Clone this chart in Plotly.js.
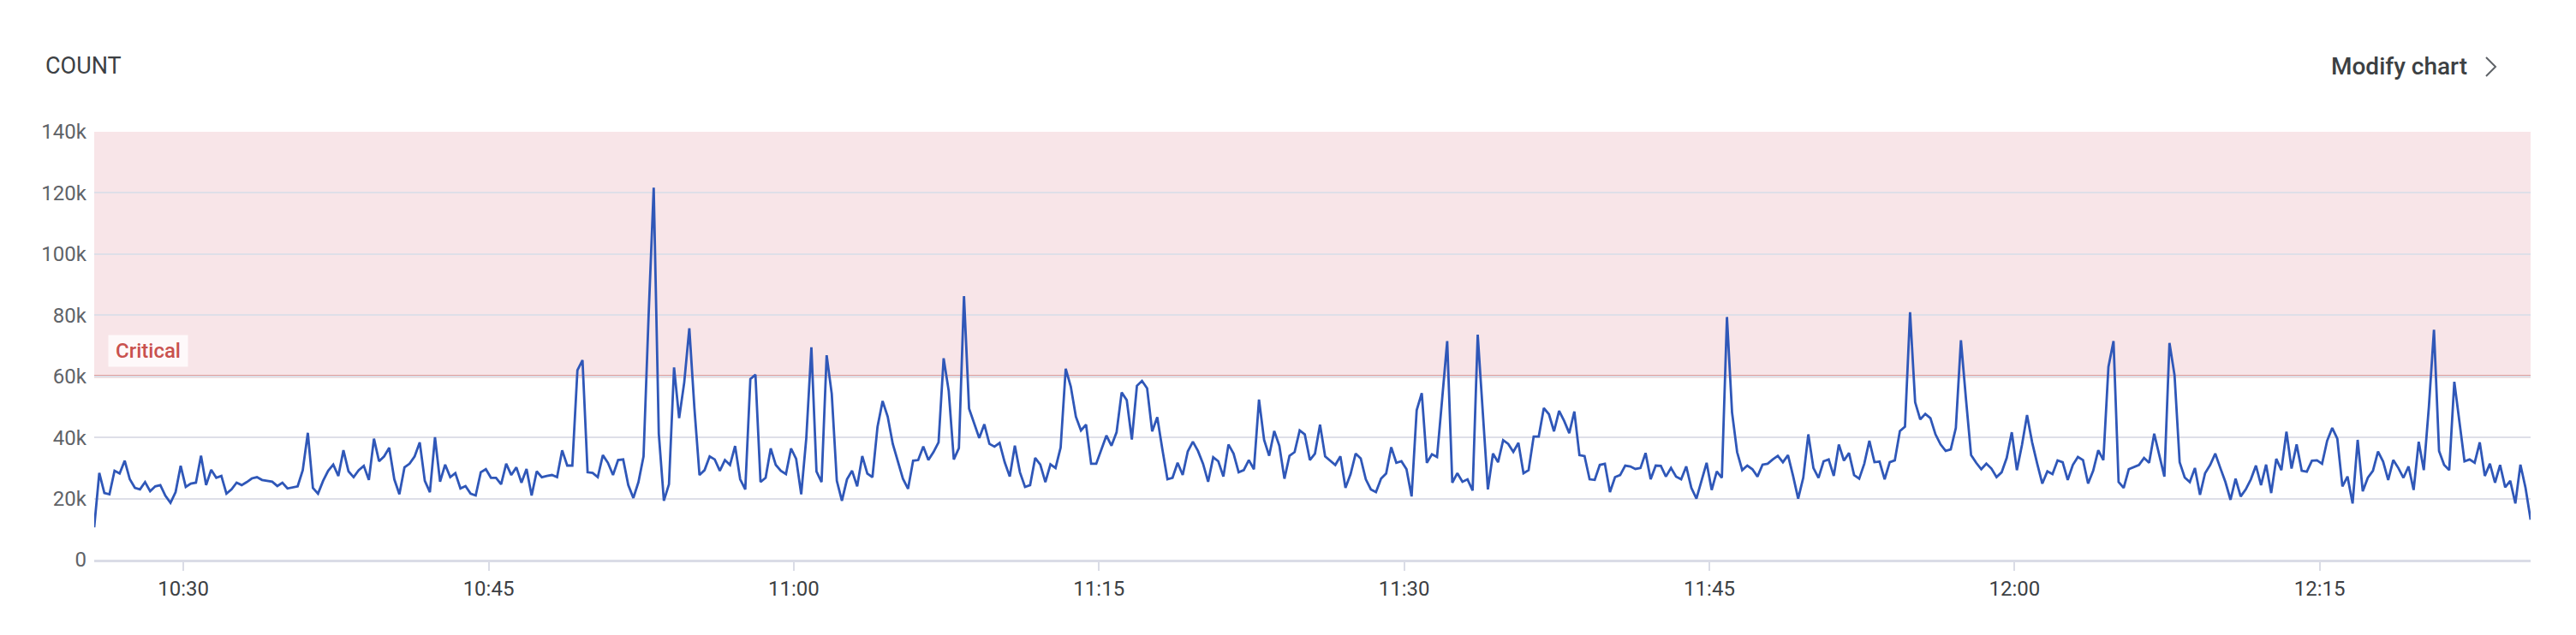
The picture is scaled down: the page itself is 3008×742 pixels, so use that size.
<!DOCTYPE html>
<html>
<head>
<meta charset="utf-8">
<script src="https://cdn.plot.ly/plotly-3.0.1.min.js"></script>
<style>
  html, body { margin: 0; padding: 0; background: #ffffff; }
  #chart { width: 3008px; height: 742px; }
</style>
</head>
<body>
<div id="chart"></div>
<script>
// ---- data ----
const startTime = "10:25:37";      // first sample
const stepSeconds = 15;            // sampling interval
const chartDate = "2024-05-01";

const countValues = [
  10600, 28400, 21800, 21400, 29100, 28200, 32400, 26300, 23500, 23000,
  25400, 22400, 24000, 24400, 20900, 18600, 22100, 30700, 23800, 24900,
  25200, 34000, 24400, 29400, 26800, 27400, 21600, 23000, 25200, 24400,
  25400, 26600, 27000, 26100, 25800, 25500, 24100, 25200, 23300, 23700,
  24000, 29300, 41500, 23500, 21600, 25800, 29100, 31100, 27400, 35800,
  28900, 27000, 29300, 30700, 26100, 39600, 32200, 33800, 36600, 26300,
  21400, 30200, 31400, 33800, 38400, 25800, 22100, 40100, 25500, 31100,
  27000, 28300, 23300, 24100, 21600, 21000, 28600, 29600, 26800, 26800,
  24700, 31400, 27700, 30200, 25200, 29700, 21000, 28900, 27000, 27400,
  27700, 27000, 35800, 30800, 30800, 62000, 65300, 28600, 28400, 27000,
  34200, 31700, 27700, 32600, 32800, 24400, 20200, 25400, 33800, 80000,
  121700, 41200, 19300, 24700, 62900, 46300, 58000, 75700, 49600, 27700,
  29300, 33800, 32800, 29100, 32600, 31000, 37200, 26300, 23000, 59100,
  60500, 25400, 26800, 36400, 31000, 29100, 28000, 36400, 33000, 21400,
  39800, 69500, 28900, 25400, 66900, 54300, 25800, 19300, 26300, 29100,
  24000, 33900, 28200, 27000, 43500, 51900, 46800, 37900, 32400, 26500,
  23200, 32400, 32600, 37000, 32600, 35200, 38400, 65900, 55200, 32800,
  36500, 86200, 49400, 44500, 39800, 44300, 37900, 37000, 38200, 31900,
  27200, 37300, 28600, 23800, 24400, 33300, 31100, 25400, 31200, 30000,
  36700, 62500, 56600, 46800, 42300, 44200, 31400, 31400, 36100, 40600,
  37300, 41700, 54700, 52200, 39300, 56900, 58500, 56100, 42000, 46600,
  36100, 26300, 26800, 31700, 27700, 35400, 38600, 35600, 31400, 25500,
  33500, 32200, 27200, 37700, 34700, 28600, 29300, 32600, 29600, 52400,
  39200, 34000, 42100, 37300, 26500, 34000, 35200, 42300, 41000, 32600,
  34700, 44200, 33800, 32400, 31000, 33800, 23500, 28000, 34700, 33100,
  26300, 23000, 22100, 26500, 28200, 36800, 31700, 32200, 29600, 20700,
  48900, 54500, 31700, 34500, 33600, 52400, 71500, 25200, 28300, 25500,
  26300, 22600, 73600, 48200, 23000, 34700, 31900, 39100, 37900, 35300,
  38200, 28300, 29300, 40300, 40300, 49600, 47600, 42000, 48700, 45400,
  41400, 48500, 34200, 33900, 26300, 26100, 31000, 31400, 22100, 27000,
  27700, 30800, 30500, 29700, 30000, 34900, 26300, 30800, 30700, 27200,
  30000, 27200, 26300, 30500, 23500, 20000, 25500, 31700, 22800, 28900,
  26800, 79400, 48200, 35200, 29300, 30800, 29600, 27200, 31100, 31400,
  32800, 34000, 31900, 34200, 27400, 20000, 26800, 41000, 30000, 26800,
  32200, 32800, 27400, 37700, 32400, 34900, 27700, 26500, 31400, 38900,
  31900, 32100, 26300, 31900, 32500, 42100, 43500, 81000, 51500, 45900,
  47700, 46300, 41000, 37700, 35600, 36100, 43100, 71800, 52400, 34200,
  31700, 29600, 31400, 29800, 27000, 28600, 33300, 41700, 29300, 37500,
  47300, 38400, 31400, 24900, 28900, 28000, 32500, 31900, 26100, 31000,
  33600, 32600, 24900, 29100, 35800, 32600, 63100, 71500, 25400, 23500,
  29600, 30300, 31000, 33300, 31700, 41200, 34200, 27200, 70900, 60300,
  31900, 26900, 25400, 30000, 21200, 28300, 31000, 34700, 30000, 25400,
  19600, 26500, 20700, 23000, 26300, 30800, 24400, 31100, 21800, 33000,
  29300, 41900, 29800, 37700, 29100, 28800, 32400, 32500, 31400, 38900,
  43100, 39600, 24000, 27200, 18400, 39200, 22400, 26800, 29100, 35400,
  32100, 26100, 32600, 30000, 26800, 30500, 22800, 38600, 29300, 50000,
  75200, 35600, 31000, 29300, 58200, 45900, 32200, 32800, 31700, 38400,
  27400, 31400, 25200, 31000, 23700, 25800, 18400, 31100, 23500, 13100
];

const criticalThreshold = 60000;
const yTickValues = [0, 20000, 40000, 60000, 80000, 100000, 120000, 140000];
const yMax = 140000;
const chartTitle = "COUNT";
const actionText = "Modify chart";
const criticalLabel = "Critical";

// ---- build time stamps on the regular sampling grid ----
function pad(n) { return (n < 10 ? "0" : "") + n; }
const [h0, m0, s0] = startTime.split(":").map(Number);
const baseSec = h0 * 3600 + m0 * 60 + s0;
const times = countValues.map((_, i) => {
  const t = baseSec + i * stepSeconds;
  return chartDate + " " + pad(Math.floor(t / 3600)) + ":" + pad(Math.floor((t % 3600) / 60)) + ":" + pad(t % 60);
});

const FONT = "Roboto, 'Noto Sans', 'DejaVu Sans', sans-serif";

const trace = {
  type: "scatter",
  mode: "lines",
  x: times,
  y: countValues,
  line: { color: "#2f57b8", width: 2.8 },
  hoverinfo: "x+y"
};

// pixel helpers for paper coordinates
const W = 3008, H = 742;
const M = { l: 110, r: 53, t: 154, b: 88 };
const PW = W - M.l - M.r, PH = H - M.t - M.b;
const px = x => (x - M.l) / PW;
const py = y => (H - M.b - y) / PH;

const layout = {
  width: W,
  height: H,
  margin: M,
  paper_bgcolor: "#ffffff",
  plot_bgcolor: "#ffffff",
  font: { family: FONT, color: "#5f6368", size: 24 },
  showlegend: false,
  title: {
    text: chartTitle,
    xref: "container", yref: "container",
    x: 53 / W, xanchor: "left",
    y: 1 - 77 / H, yanchor: "middle",
    font: { family: FONT, size: 27, color: "#3c4043" }
  },
  xaxis: {
    type: "date",
    range: [times[0], times[times.length - 1]],
    tickformat: "%H:%M",
    dtick: 15 * 60 * 1000,
    tick0: chartDate + " 10:30:00",
    showgrid: false,
    zeroline: false,
    showline: true,
    linecolor: "#dadce6",
    linewidth: 3,
    ticks: "outside",
    ticklen: 10,
    tickwidth: 1.5,
    tickcolor: "#dadce6",
    tickfont: { family: FONT, size: 24, color: "#3c4043" },
    fixedrange: true
  },
  yaxis: {
    range: [0, yMax],
    tickvals: yTickValues,
    tickformat: "~s",
    showgrid: true,
    gridcolor: "#dedfe8",
    gridwidth: 2,
    zeroline: false,
    showline: false,
    ticks: "",
    ticklabelstandoff: 8,
    tickfont: { family: FONT, size: 24, color: "#5f6368" },
    fixedrange: true
  },
  shapes: [
    {
      type: "rect", layer: "between",
      xref: "paper", x0: 0, x1: 1,
      yref: "y", y0: criticalThreshold, y1: yMax,
      fillcolor: "rgba(190,30,50,0.115)",
      line: { width: 0 }
    },
    {
      type: "line", layer: "between",
      xref: "paper", x0: 0, x1: 1,
      yref: "y", y0: criticalThreshold, y1: criticalThreshold,
      line: { color: "#d98683", width: 3 }
    },
    {
      type: "path",
      xref: "paper", yref: "paper",
      xsizemode: "pixel", ysizemode: "pixel",
      xanchor: px(2903), yanchor: py(78),
      path: "M0,11 L11,0 L0,-11",
      line: { color: "#5f6368", width: 2 }
    }
  ],
  annotations: [
    {
      text: actionText,
      xref: "paper", yref: "paper",
      x: px(2883), xanchor: "right",
      y: py(77), yanchor: "middle",
      showarrow: false,
      font: { family: FONT, size: 28, color: "#3c4043", weight: 500 }
    },
    {
      text: criticalLabel,
      xref: "paper", yref: "y",
      x: px(126), xanchor: "left",
      y: 68300, yanchor: "middle",
      showarrow: false,
      bgcolor: "rgba(255,255,255,0.78)",
      borderpad: 4,
      width: 84,
      height: 28,
      align: "center",
      font: { family: FONT, size: 24, color: "#c9514e", weight: 500 }
    }
  ],
  hovermode: "closest"
};

Plotly.newPlot("chart", [trace], layout, { displayModeBar: false, staticPlot: false, responsive: false });
</script>
</body>
</html>
